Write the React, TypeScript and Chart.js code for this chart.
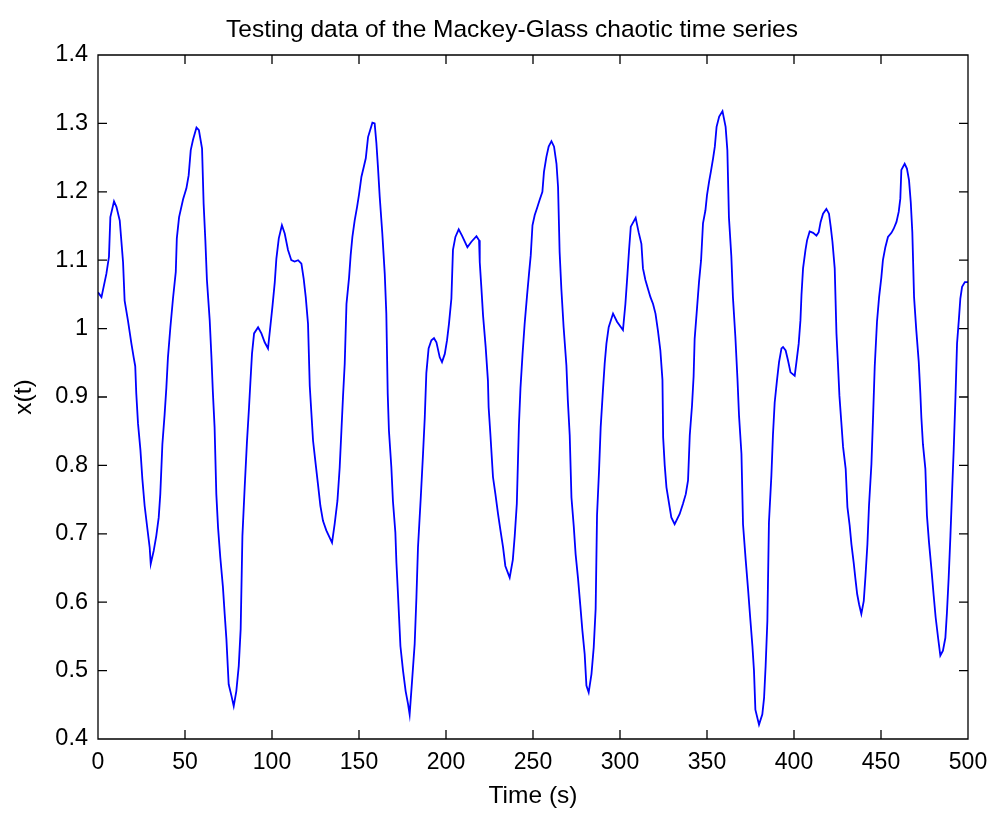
import React, { useEffect, useRef } from "react";
import { Chart, registerables } from "chart.js";

Chart.register(...registerables);

// Mackey-Glass test segment: time (s) and x(t)
const timeSeconds: number[] = [
  0, 2, 4.8, 6.3, 7.1, 9.2, 10.6, 12.5, 13.4, 14.4, 15.3, 17.2, 19.2, 20.5, 21.4, 22, 23, 24.4, 25.5, 26.8,
  28.4, 29.7, 30.3, 32, 33.5, 34.9, 35.8, 37, 38.3, 39.3, 40.2, 41.6, 43.1, 44.7, 45.3, 46.6, 48.9, 50.8, 52.1, 53.3,
  54.6, 56.6, 58, 59.8, 60.7, 61.7, 62.6, 64.2, 65.2, 66, 67, 68, 69, 70.3, 71.8, 72.8, 73.8, 75.1, 76.7, 78,
  79.5, 80.9, 82, 83, 84.3, 85.6, 86.8, 87.7, 88.5, 89.7, 92, 93.9, 95.8, 97.7, 99, 100.2, 101.6, 102.5, 103.9, 105.7,
  107.3, 109.2, 111.1, 113, 115, 116.9, 118.2, 119.4, 120.7, 121.7, 122.6, 123.6, 125.1, 126.4, 127.8, 129.3, 131.2, 134.5, 136, 137.6,
  138.9, 139.9, 140.8, 141.8, 142.8, 144.3, 145.2, 146.2, 147.5, 148.9, 150, 151.4, 152.7, 153.9, 155.2, 157.7, 159, 160, 160.9, 161.9,
  163.4, 164.8, 165.7, 166.5, 167.2, 168.6, 169.5, 170.9, 171.5, 172.4, 173.8, 175.3, 176.8, 178.2, 179.1, 180.5, 182, 183, 183.9, 185.5,
  186.8, 187.8, 188.7, 190, 191.6, 193.1, 194.5, 196.4, 197.7, 199.3, 200.6, 201.7, 203.1, 204, 205.4, 207.3, 209.2, 212.3, 214.6, 217.5,
  219, 219.4, 220.3, 221.3, 222.8, 224.1, 224.5, 225.5, 227, 228.4, 229.9, 231.3, 232.8, 234.1, 236.6, 238.4, 239.5, 240.7, 241.9, 242.8,
  244, 245.2, 246.6, 247.7, 248.7, 249.7, 251, 252.3, 253.8, 255.4, 256.3, 257.7, 259, 260.6, 262.1, 263.5, 264.4, 265.3, 266.3, 267.6,
  269.2, 270, 271.1, 272.1, 273.4, 274.5, 275.9, 277.2, 278.4, 279.7, 280.7, 282, 283.6, 284.9, 286, 286.8, 288, 288.9, 290.2, 291.2,
  292.2, 293.5, 296, 298.3, 301.7, 303.1, 304.3, 305.2, 306.2, 309, 310.7, 312.3, 313.2, 314.6, 316.1, 317.5, 319, 320.4, 321.8, 323.2,
  324.4, 324.8, 325.7, 326.7, 328.2, 329.5, 331.4, 334.3, 336.2, 337.8, 339.1, 340.1, 341.4, 342.3, 342.9, 344.3, 345.4, 346.6, 347.7, 349.1,
  350, 351.2, 352.2, 353.5, 354.5, 355.5, 357, 358.9, 360.7, 361.7, 362.6, 364, 364.9, 366.3, 367.5, 368.4, 369.8, 370.7, 372.2, 373.6,
  374.9, 376.1, 377, 377.8, 379.9, 381.8, 382.8, 383.7, 384.7, 385.6, 387, 387.9, 388.9, 390.2, 391.4, 392.8, 393.7, 395.2, 396.6, 398,
  400.4, 401.4, 402.7, 403.7, 404.3, 405.2, 406.6, 407.5, 409, 411, 412.9, 414.2, 415.3, 416.7, 418.6, 420.1, 421.1, 422.1, 423.4, 424.4,
  425.3, 426.1, 427.2, 428.2, 429.7, 430.7, 432, 433, 434.3, 435.3, 436.3, 437.4, 438.7, 440.1, 441.1, 442.2, 443.1, 444.5, 445.5, 446.4,
  447.7, 448.9, 450.2, 451.1, 452.5, 454, 456, 457.3, 458.9, 460.2, 461.1, 461.7, 463.6, 464.9, 466.1, 467.1, 468, 469, 470.3, 471.7,
  472.6, 473.2, 474.1, 475.5, 476.4, 477.6, 479, 480.3, 481.4, 482.8, 484.1, 485.6, 487, 487.9, 488.9, 489.9, 490.8, 491.8, 492.8, 493.7,
  494.8, 495.6, 496.6, 498.2, 500,
];

const xValues: number[] = [
  1.053, 1.046, 1.08, 1.105, 1.163, 1.186, 1.178, 1.158, 1.129, 1.097, 1.041, 1.012, 0.978, 0.958, 0.945, 0.905, 0.861, 0.822, 0.78, 0.741,
  0.707, 0.68, 0.656, 0.675, 0.697, 0.724, 0.758, 0.831, 0.875, 0.914, 0.958, 1.002, 1.044, 1.083, 1.132, 1.163, 1.189, 1.205, 1.224, 1.261,
  1.276, 1.294, 1.29, 1.263, 1.183, 1.129, 1.071, 1.012, 0.958, 0.908, 0.856, 0.758, 0.709, 0.665, 0.622, 0.583, 0.546, 0.48, 0.463, 0.448,
  0.47, 0.507, 0.561, 0.697, 0.768, 0.834, 0.885, 0.927, 0.963, 0.993, 1.002, 0.993, 0.98, 0.971, 1.002, 1.031, 1.068, 1.102, 1.132, 1.151,
  1.139, 1.115, 1.1, 1.098, 1.1, 1.095, 1.073, 1.046, 1.007, 0.916, 0.878, 0.836, 0.802, 0.773, 0.741, 0.719, 0.705, 0.687, 0.714, 0.748,
  0.797, 0.851, 0.9, 0.949, 1.036, 1.075, 1.107, 1.134, 1.158, 1.178, 1.196, 1.222, 1.236, 1.249, 1.28, 1.301, 1.3, 1.271, 1.236, 1.193,
  1.139, 1.08, 1.022, 0.905, 0.851, 0.797, 0.748, 0.702, 0.658, 0.612, 0.536, 0.5, 0.47, 0.451, 0.436, 0.485, 0.539, 0.607, 0.68, 0.753,
  0.817, 0.87, 0.935, 0.971, 0.983, 0.986, 0.98, 0.958, 0.951, 0.963, 0.983, 1.007, 1.044, 1.115, 1.134, 1.145, 1.136, 1.119, 1.127, 1.135,
  1.129, 1.097, 1.061, 1.019, 0.973, 0.924, 0.885, 0.846, 0.783, 0.758, 0.729, 0.705, 0.68, 0.653, 0.636, 0.662, 0.697, 0.744, 0.858, 0.913,
  0.963, 1.007, 1.049, 1.08, 1.107, 1.151, 1.166, 1.176, 1.188, 1.2, 1.229, 1.251, 1.266, 1.274, 1.266, 1.241, 1.207, 1.112, 1.058, 1.002,
  0.946, 0.896, 0.844, 0.753, 0.712, 0.67, 0.634, 0.595, 0.558, 0.524, 0.478, 0.468, 0.495, 0.534, 0.59, 0.727, 0.795, 0.856, 0.91, 0.949,
  0.978, 1.002, 1.022, 1.01, 0.998, 1.036, 1.08, 1.115, 1.149, 1.162, 1.141, 1.124, 1.088, 1.071, 1.058, 1.046, 1.036, 1.022, 0.997, 0.968,
  0.925, 0.841, 0.8, 0.768, 0.744, 0.724, 0.714, 0.729, 0.744, 0.758, 0.778, 0.844, 0.888, 0.93, 0.985, 1.031, 1.068, 1.1, 1.154, 1.173,
  1.195, 1.215, 1.229, 1.249, 1.266, 1.295, 1.31, 1.318, 1.295, 1.261, 1.163, 1.105, 1.046, 0.988, 0.927, 0.873, 0.817, 0.714, 0.663, 0.619,
  0.575, 0.536, 0.5, 0.443, 0.421, 0.436, 0.46, 0.507, 0.573, 0.717, 0.785, 0.844, 0.892, 0.924, 0.951, 0.971, 0.973, 0.968, 0.953, 0.936,
  0.931, 0.951, 0.978, 1.012, 1.049, 1.088, 1.115, 1.129, 1.142, 1.14, 1.136, 1.141, 1.156, 1.168, 1.175, 1.168, 1.149, 1.127, 1.088, 0.993,
  0.946, 0.902, 0.863, 0.827, 0.795, 0.739, 0.712, 0.685, 0.658, 0.634, 0.612, 0.597, 0.583, 0.602, 0.639, 0.685, 0.741, 0.802, 0.875, 0.945,
  1.01, 1.046, 1.075, 1.1, 1.119, 1.134, 1.14, 1.146, 1.156, 1.171, 1.19, 1.232, 1.241, 1.234, 1.217, 1.185, 1.141, 1.046, 0.997, 0.951,
  0.906, 0.87, 0.831, 0.795, 0.727, 0.687, 0.648, 0.609, 0.578, 0.548, 0.522, 0.529, 0.548, 0.585, 0.636, 0.697, 0.758, 0.824, 0.9, 0.978,
  1.015, 1.044, 1.061, 1.068, 1.068,
];

const xTicks: number[] = [0, 50, 100, 150, 200, 250, 300, 350, 400, 450, 500];
const yTicks: number[] = [0.4, 0.5, 0.6, 0.7, 0.8, 0.9, 1.0, 1.1, 1.2, 1.3, 1.4];

const chartTitle = "Testing data of the Mackey-Glass chaotic time series";
const xAxisTitle = "Time (s)";
const yAxisTitle = "x(t)";

const FONT = "'Liberation Sans', Arial, Helvetica, sans-serif";
const TICK_LEN = 9;

// Title sits a little right of the canvas centre, above the axes box
const titlePlugin = {
  id: "figureTitle",
  afterDraw(chart: any) {
    const { ctx, chartArea } = chart;
    ctx.save();
    ctx.fillStyle = "#000";
    ctx.font = `24.5px ${FONT}`;
    ctx.textAlign = "center";
    ctx.textBaseline = "alphabetic";
    ctx.fillText(chartTitle, chart.width / 2 + 17, chartArea.top - 18);
    ctx.restore();
  },
};

// Draws the closed axes box with inward tick marks on all four sides
const axesBoxPlugin = {
  id: "axesBox",
  afterDatasetsDraw(chart: any) {
    const { ctx, chartArea, scales } = chart;
    const { left, right, top, bottom } = chartArea;
    ctx.save();
    ctx.strokeStyle = "#000";
    ctx.lineWidth = 1.3;
    ctx.beginPath();
    ctx.rect(left, top, right - left, bottom - top);
    for (const v of xTicks) {
      const px = scales.x.getPixelForValue(v);
      ctx.moveTo(px, bottom);
      ctx.lineTo(px, bottom - TICK_LEN);
      ctx.moveTo(px, top);
      ctx.lineTo(px, top + TICK_LEN);
    }
    for (const v of yTicks) {
      const py = scales.y.getPixelForValue(v);
      ctx.moveTo(left, py);
      ctx.lineTo(left + TICK_LEN, py);
      ctx.moveTo(right, py);
      ctx.lineTo(right - TICK_LEN, py);
    }
    ctx.stroke();
    ctx.restore();
  },
};

export default function App() {
  const canvasRef = useRef<HTMLCanvasElement | null>(null);

  useEffect(() => {
    if (!canvasRef.current) return;
    const points = timeSeconds.map((t, i) => ({ x: t, y: xValues[i] }));
    const chart = new Chart(canvasRef.current, {
      type: "line",
      data: {
        datasets: [
          {
            data: points,
            borderColor: "#0000ff",
            borderWidth: 1.8,
            pointRadius: 0,
            tension: 0,
            fill: false,
          },
        ],
      },
      options: {
        animation: false,
        responsive: false,
        devicePixelRatio: 1,
        layout: { padding: { top: 55, right: 22, bottom: 0, left: 0 } },
        plugins: {
          legend: { display: false },
          tooltip: { enabled: false },
          title: { display: false },
        },
        scales: {
          x: {
            type: "linear",
            min: 0,
            max: 500,
            afterBuildTicks: (scale: any) => {
              scale.ticks = xTicks.map((v) => ({ value: v }));
            },
            afterFit: (scale: any) => {
              scale.height = 74;
              scale.paddingLeft = 0;
              scale.paddingRight = 0;
            },
            grid: { display: false, drawTicks: false },
            border: { display: false },
            ticks: {
              color: "#000",
              font: { family: FONT, size: 23 },
              padding: 10,
              maxRotation: 0,
              callback: (v: any) => String(v),
            },
            title: {
              display: true,
              text: xAxisTitle,
              color: "#000",
              font: { family: FONT, size: 24.5 },
              padding: { top: 0, bottom: 2 },
            },
          },
          y: {
            type: "linear",
            min: 0.4,
            max: 1.4,
            afterBuildTicks: (scale: any) => {
              scale.ticks = yTicks.map((v) => ({ value: v }));
            },
            afterFit: (scale: any) => {
              scale.width = 98;
              scale.paddingTop = 0;
              scale.paddingBottom = 0;
            },
            grid: { display: false, drawTicks: false },
            border: { display: false },
            ticks: {
              color: "#000",
              font: { family: FONT, size: 23.5 },
              padding: 10,
              callback: (v: any) => String(Number(Number(v).toFixed(1))),
            },
            title: {
              display: true,
              text: yAxisTitle,
              color: "#000",
              font: { family: FONT, size: 24.5 },
              padding: { top: 10, bottom: 0 },
            },
          },
        },
      },
      plugins: [axesBoxPlugin, titlePlugin],
    });
    return () => chart.destroy();
  }, []);

  return (
    <div style={{ position: "absolute", left: 0, top: 0, width: 990, height: 813, background: "#fff" }}>
      <canvas ref={canvasRef} width={990} height={813} style={{ display: "block" }} />
    </div>
  );
}
